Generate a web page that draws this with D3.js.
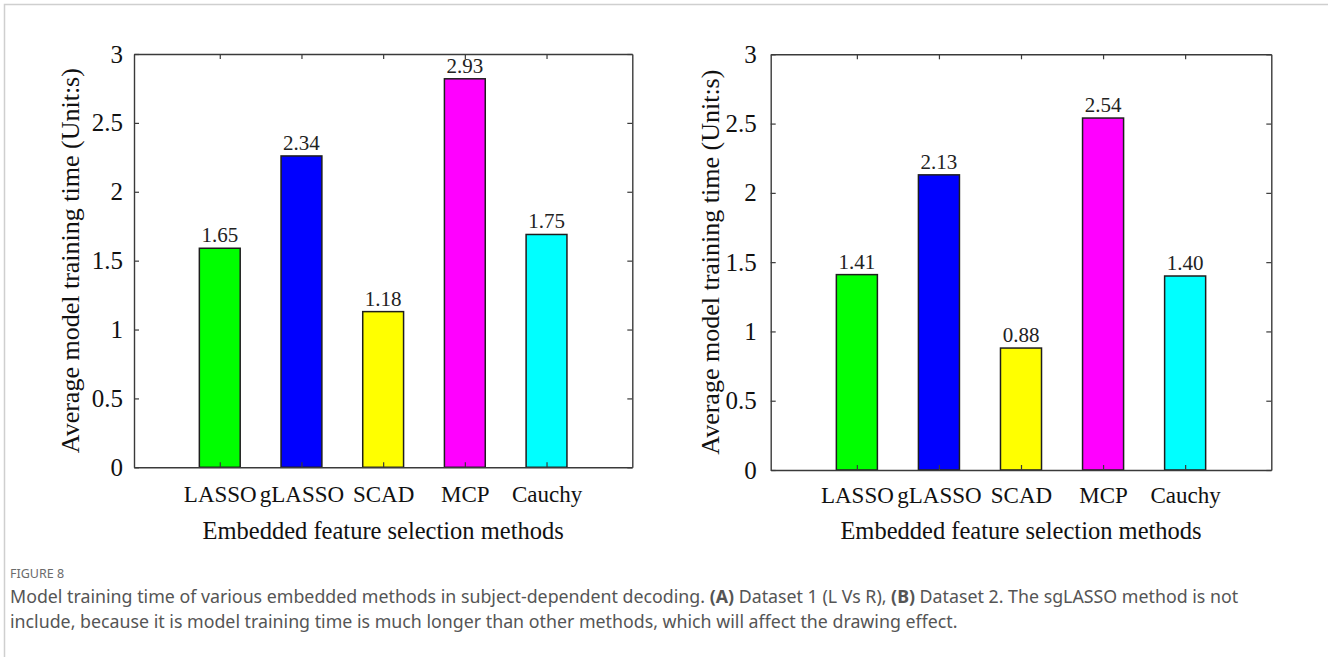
<!DOCTYPE html>
<html>
<head>
<meta charset="utf-8">
<script src="https://cdn.jsdelivr.net/npm/d3@7"></script>
<style>
  body { margin: 0; background: #fff; }
  .serif { font-family: "Liberation Serif", "Times New Roman", serif; }
  .caption { font-family: "Noto Sans", "Open Sans", sans-serif; }
</style>
</head>
<body>
<div id="chart"></div>
<script>
// Categories and values
var methods = ["LASSO", "gLASSO", "SCAD", "MCP", "Cauchy"];

// Panel A: bar heights (as drawn) and the printed labels
var timesA = [1.59, 2.26, 1.13, 2.82, 1.69];
var labelsA = ["1.65", "2.34", "1.18", "2.93", "1.75"];

// Panel B
var timesB = [1.41, 2.13, 0.88, 2.54, 1.4];
var labelsB = ["1.41", "2.13", "0.88", "2.54", "1.40"];

// Axis ticks
var yTicks = [0, 0.5, 1, 1.5, 2, 2.5, 3];
var xTicks = [1, 2, 3, 4, 5];

// Bar face colours (MATLAB style)
var barColors = ["#00ff00", "#0000ff", "#ffff00", "#ff00ff", "#00ffff"];

var w = 1328;
var h = 657;

var svg = d3
  .select("#chart")
  .append("svg")
  .attr("width", w)
  .attr("height", h);

svg.append("rect").attr("width", w).attr("height", h).attr("fill", "#fff");

// thin frame line on top and left like the article figure box
svg
  .append("path")
  .attr("d", "M4.5," + h + "V4.5H" + w)
  .attr("fill", "none")
  .attr("stroke", "#cfcfcf")
  .attr("stroke-width", 1.5);

var axisColor = "#3a3a3a";

function drawPanel(box, values, labels) {
  var xScale = d3.scaleLinear().domain([-0.05, 6.05]).range([box.x0, box.x1]);
  var yScale = d3.scaleLinear().domain([0, 3]).range([box.y1, box.y0]);
  var bw = xScale(1.25) - xScale(0.75);

  var g = svg.append("g");

  // Bars
  g.selectAll("rect.bar")
    .data(values)
    .enter()
    .append("rect")
    .attr("class", "bar")
    .attr("x", function (d, i) {
      return xScale(i + 1) - bw / 2;
    })
    .attr("y", function (d) {
      return yScale(d);
    })
    .attr("width", bw)
    .attr("height", function (d) {
      return yScale(0) - yScale(d);
    })
    .attr("fill", function (d, i) {
      return barColors[i];
    })
    .attr("stroke", "#1e1e1e")
    .attr("stroke-width", 1.5);

  // Value labels above bars
  g.selectAll("text.val")
    .data(values)
    .enter()
    .append("text")
    .attr("class", "val serif")
    .attr("x", function (d, i) {
      return xScale(i + 1);
    })
    .attr("y", function (d) {
      return yScale(d) - 6;
    })
    .attr("text-anchor", "middle")
    .attr("font-size", 21)
    .attr("fill", "#222")
    .text(function (d, i) {
      return labels[i];
    });

  // Axes (ticks point inward, box on)
  var left = g
    .append("g")
    .attr("transform", "translate(" + box.x0 + ",0)")
    .call(
      d3.axisLeft(yScale)
        .tickValues(yTicks)
        .tickFormat(d3.format(""))
        .tickSizeInner(-5)
        .tickSizeOuter(0)
        .tickPadding(box.pad)
    );
  var right = g
    .append("g")
    .attr("transform", "translate(" + box.x1 + ",0)")
    .call(d3.axisRight(yScale).tickValues(yTicks).tickFormat("").tickSizeInner(-5).tickSizeOuter(0));
  var bottom = g
    .append("g")
    .attr("transform", "translate(0," + box.y1 + ")")
    .call(
      d3.axisBottom(xScale)
        .tickValues(xTicks)
        .tickFormat(function (d) {
          return methods[d - 1];
        })
        .tickSizeInner(-5)
        .tickSizeOuter(0)
        .tickPadding(box.y1 > 468 ? 16.5 : 18)
    );
  var top = g
    .append("g")
    .attr("transform", "translate(0," + box.y0 + ")")
    .call(d3.axisTop(xScale).tickValues(xTicks).tickFormat("").tickSizeInner(-5).tickSizeOuter(0));

  [left, right, bottom, top].forEach(function (a) {
    a.attr("font-family", null).attr("font-size", null);
    a.selectAll("path.domain").attr("stroke", axisColor).attr("stroke-width", 1.4);
    a.selectAll(".tick line").attr("stroke", axisColor).attr("stroke-width", 1.2);
    a.selectAll("text").attr("class", "serif").attr("fill", "#111");
  });
  left.selectAll("text").attr("font-size", 25);
  bottom.selectAll("text").attr("font-size", 23);

  // Axis titles
  g.append("text")
    .attr("class", "serif")
    .attr("text-anchor", "middle")
    .attr("font-size", 24.5)
    .attr("fill", "#111")
    .attr("x", (box.x0 + box.x1) / 2)
    .attr("y", 539)
    .text("Embedded feature selection methods");

  g.append("text")
    .attr("class", "serif")
    .attr("text-anchor", "middle")
    .attr("font-size", 26)
    .attr("fill", "#111")
    .attr("transform", "translate(" + (box.x0 - box.lab) + "," + (box.y0 + box.y1) / 2 + ") rotate(-90)")
    .text("Average model training time (Unit:s)");
}

drawPanel({ x0: 134, x1: 632.3, y0: 54, y1: 467.3, pad: 11, lab: 55 }, timesA, labelsA);
drawPanel({ x0: 770.7, x1: 1271.3, y0: 54.3, y1: 470, pad: 14, lab: 52 }, timesB, labelsB);

// Caption
svg
  .append("text")
  .attr("class", "caption")
  .attr("x", 10)
  .attr("y", 578)
  .attr("font-size", 12.5)
  .attr("fill", "#6b6b6b")
  .text("FIGURE 8");

var cap1 = svg
  .append("text")
  .attr("class", "caption")
  .attr("x", 10)
  .attr("y", 603)
  .attr("font-size", 17.8)
  .attr("fill", "#555");
cap1.append("tspan").text("Model training time of various embedded methods in subject-dependent decoding. ");
cap1.append("tspan").attr("font-weight", "bold").text("(A)");
cap1.append("tspan").text(" Dataset 1 (L Vs R), ");
cap1.append("tspan").attr("font-weight", "bold").text("(B)");
cap1.append("tspan").text(" Dataset 2. The sgLASSO method is not");

svg
  .append("text")
  .attr("class", "caption")
  .attr("x", 10)
  .attr("y", 628)
  .attr("font-size", 17.8)
  .attr("fill", "#555")
  .text("include, because it is model training time is much longer than other methods, which will affect the drawing effect.");
</script>
</body>
</html>
